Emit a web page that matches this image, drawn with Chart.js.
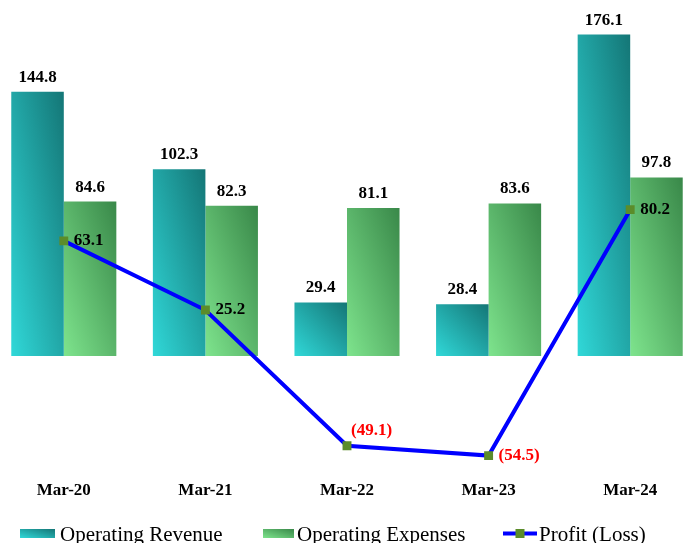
<!DOCTYPE html>
<html>
<head>
<meta charset="utf-8">
<script src="https://cdn.jsdelivr.net/npm/chart.js@4.4.1/dist/chart.umd.min.js"></script>
<style>
  html, body { margin: 0; padding: 0; background: #fff; overflow: hidden; }
  /* the outer columns run a little past the page edges */
  #wrap { width: 708px; height: 543px; margin-left: -7px; }
</style>
</head>
<body>
<div id="wrap"><canvas id="chart"></canvas></div>
<script>
const years = ['Mar-20', 'Mar-21', 'Mar-22', 'Mar-23', 'Mar-24'];
const operatingRevenue = [144.8, 102.3, 29.4, 28.4, 176.1];
const operatingExpenses = [84.6, 82.3, 81.1, 83.6, 97.8];
const profitLoss = [63.1, 25.2, -49.1, -54.5, 80.2];
const seriesNames = ['Operating Revenue', 'Operating Expenses', 'Profit (Loss)'];

const FONT = "'Liberation Serif', 'Times New Roman', serif";
const revenueShades = ['#30d8d8', '#147676'];
const expenseShades = ['#7ee48d', '#398849'];
const markerGreen = '#5b8c2a';
const lineBlue = '#0000ff';

// diagonal shading that scales with the box: light in the bottom-left
// corner, dark in the top-right, the other two corners half way
function diagGradient(ctx, left, top, right, bottom, shades) {
  const w = right - left, h = bottom - top;
  const k = 2 * w * h / (w * w + h * h);
  const g = ctx.createLinearGradient(left, bottom, left + h * k, bottom - w * k);
  g.addColorStop(0, shades[0]);
  g.addColorStop(1, shades[1]);
  return g;
}

const fmtProfit = v => v < 0 ? `(${Math.abs(v).toFixed(1)})` : v.toFixed(1);

// each bar gets its own gradient, sized to the bar
const barShading = {
  id: 'barShading',
  beforeDatasetsDraw(chart) {
    const ctx = chart.ctx;
    [revenueShades, expenseShades].forEach((shades, di) => {
      chart.getDatasetMeta(di).data.forEach(bar => {
        const left = bar.x - bar.width / 2;
        const right = bar.x + bar.width / 2;
        bar.options.backgroundColor = diagGradient(ctx, left, bar.y, right, bar.base, shades);
      });
    });
  }
};

const valueLabels = {
  id: 'valueLabels',
  afterDatasetsDraw(chart) {
    const ctx = chart.ctx;
    ctx.save();
    ctx.font = `bold 17px ${FONT}`;
    ctx.textBaseline = 'alphabetic';

    // bar values sit above the bars
    ctx.textAlign = 'center';
    ctx.fillStyle = '#000';
    [operatingRevenue, operatingExpenses].forEach((values, di) => {
      chart.getDatasetMeta(di).data.forEach((bar, i) => {
        ctx.fillText(values[i].toFixed(1), bar.x, bar.y - 10);
      });
    });

    // profit values go to the right of the marker, or above it when
    // the next segment runs flat and would cut through the text
    ctx.textAlign = 'left';
    const pts = chart.getDatasetMeta(2).data;
    pts.forEach((pt, i) => {
      const v = profitLoss[i];
      ctx.fillStyle = v < 0 ? '#ff0000' : '#000';
      const next = pts[i + 1];
      const flat = next && Math.abs((next.y - pt.y) / (next.x - pt.x)) < 0.2;
      if (flat) {
        ctx.fillText(fmtProfit(v), pt.x + 4, pt.y - 11);
      } else {
        ctx.fillText(fmtProfit(v), pt.x + 10, pt.y + 4);
      }
    });
    ctx.restore();
  }
};

const bottomLegend = {
  id: 'bottomLegend',
  afterDraw(chart) {
    const ctx = chart.ctx;
    const y = 533.5;
    ctx.save();
    ctx.font = `21px ${FONT}`;
    ctx.textAlign = 'left';
    ctx.textBaseline = 'alphabetic';

    ctx.fillStyle = diagGradient(ctx, 27, y - 4.5, 62, y + 4.5, revenueShades);
    ctx.fillRect(27, y - 4.5, 35, 9);
    ctx.fillStyle = '#000';
    ctx.fillText(seriesNames[0], 67, 541);

    ctx.fillStyle = diagGradient(ctx, 270, y - 4.5, 301, y + 4.5, expenseShades);
    ctx.fillRect(270, y - 4.5, 31, 9);
    ctx.fillStyle = '#000';
    ctx.fillText(seriesNames[1], 304, 541);

    ctx.strokeStyle = lineBlue;
    ctx.lineWidth = 4;
    ctx.beginPath();
    ctx.moveTo(510, y);
    ctx.lineTo(544, y);
    ctx.stroke();
    ctx.fillStyle = markerGreen;
    ctx.fillRect(522.5, y - 4.5, 9, 9);
    ctx.fillStyle = '#000';
    ctx.fillText(seriesNames[2], 546, 541);
    ctx.restore();
  }
};

new Chart(document.getElementById('chart'), {
  type: 'bar',
  data: {
    labels: years,
    datasets: [
      {
        label: seriesNames[0],
        data: operatingRevenue,
        backgroundColor: () => revenueShades[0],
        borderWidth: 0,
        categoryPercentage: 0.742,
        barPercentage: 1.0,
        order: 1
      },
      {
        label: seriesNames[1],
        data: operatingExpenses,
        backgroundColor: () => expenseShades[0],
        borderWidth: 0,
        categoryPercentage: 0.742,
        barPercentage: 1.0,
        order: 1
      },
      {
        type: 'line',
        label: seriesNames[2],
        data: profitLoss,
        borderColor: lineBlue,
        borderWidth: 4,
        tension: 0,
        pointStyle: 'rect',
        pointRadius: 6.3,
        pointBorderWidth: 0,
        pointBackgroundColor: markerGreen,
        order: 0
      }
    ]
  },
  options: {
    responsive: true,
    maintainAspectRatio: false,
    animation: false,
    events: [],
    layout: { autoPadding: false, padding: { top: 0, left: 0, right: 0, bottom: 39 } },
    scales: {
      x: {
        grid: { display: false, drawTicks: false },
        border: { display: false },
        ticks: {
          color: '#000',
          font: { family: FONT, size: 17, weight: 'bold' },
          padding: 3.5,
          maxRotation: 0,
          autoSkip: false
        }
      },
      y: { display: false, min: -66, max: 195 }
    },
    plugins: {
      legend: { display: false },
      tooltip: { enabled: false }
    }
  },
  plugins: [barShading, valueLabels, bottomLegend]
});
</script>
</body>
</html>
